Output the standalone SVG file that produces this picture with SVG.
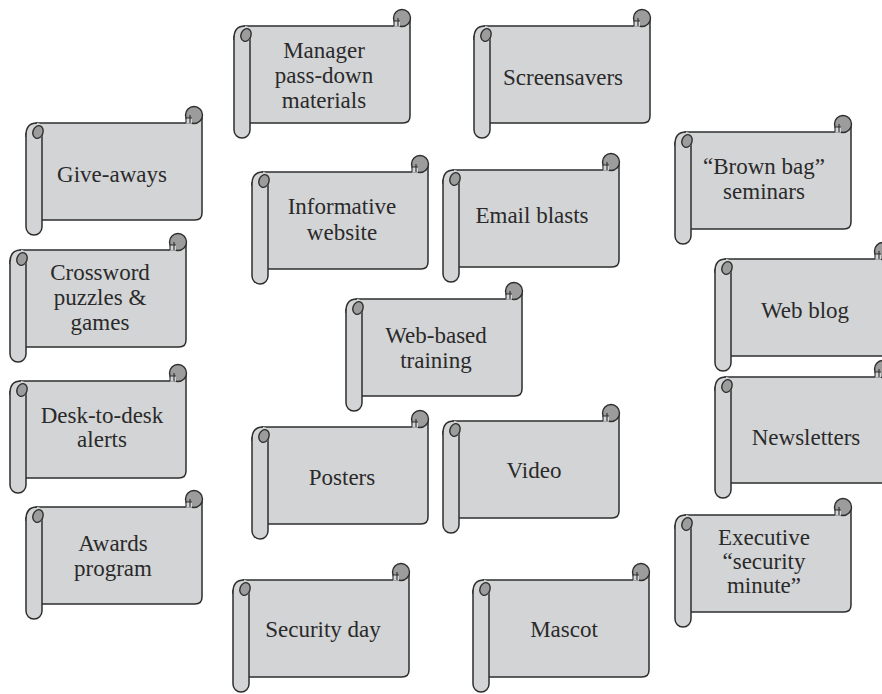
<svg xmlns="http://www.w3.org/2000/svg" xmlns:xlink="http://www.w3.org/1999/xlink" width="882" height="694" viewBox="0 0 882 694">
<style>
.t{font-family:"Liberation Serif","Times New Roman",serif;font-size:23px;fill:#2a2a2a;text-anchor:middle}
.b{fill:#d3d4d6;stroke:#2e2e2e;stroke-width:1.5;stroke-linejoin:round}
.d{fill:#9c9c9c;stroke:#2e2e2e;stroke-width:1.4}
.s{fill:none;stroke:#2e2e2e;stroke-width:1.5}
</style>
<defs>
<g id="cap">
<path d="M0,12 C0,4 4,0 11,0 C15,0 18,4 17,9 L16,14 H0 Z" fill="#d3d4d6"/>
<path class="s" d="M0,14 V12 C0,4 4,0 11,0"/>
<ellipse class="d" cx="12" cy="9" rx="5" ry="6.5" transform="rotate(20 12 9)"/>
<circle class="d" cx="168" cy="-8" r="8.5"/>
<path d="M160,0.6 V-5 H166 V0.6 Z" fill="#d3d4d6"/>
<path d="M160,0 V-5 H166 M164,-8 V0" fill="none" stroke="#2e2e2e" stroke-width="1.1"/>
</g>
<g id="scroll">
<path class="b" d="M10,0 H168 V-8 H176 V90 Q176,97 169,97 H10 Z"/>
<path class="b" d="M0,10 V104 A8,8 0 0 0 16,104 V10"/>
<use xlink:href="#cap"/>
</g>
<g id="scrollTall">
<path class="b" d="M10,0 H168 V-8 H176 V99 Q176,106 169,106 H10 Z"/>
<path class="b" d="M0,10 V113 A8,8 0 0 0 16,113 V10"/>
<use xlink:href="#cap"/>
</g>
</defs>
<g id="connectors"/>
<g id="n-manager"><use xlink:href="#scroll" x="234" y="26"/><text class="t"><tspan x="324" y="58">Manager</tspan><tspan x="324" y="83">pass-down</tspan><tspan x="324" y="108">materials</tspan></text></g>
<g id="n-screensavers"><use xlink:href="#scroll" x="474" y="26"/><text class="t" x="563" y="85">Screensavers</text></g>
<g id="n-giveaways"><use xlink:href="#scroll" x="26" y="123"/><text class="t" x="112" y="182">Give-aways</text></g>
<g id="n-brownbag"><use xlink:href="#scroll" x="675" y="132"/><text class="t"><tspan x="764" y="174">“Brown bag”</tspan><tspan x="764" y="199">seminars</tspan></text></g>
<g id="n-informative"><use xlink:href="#scroll" x="252" y="172"/><text class="t"><tspan x="342" y="214">Informative</tspan><tspan x="342" y="240">website</tspan></text></g>
<g id="n-email"><use xlink:href="#scroll" x="443" y="170"/><text class="t" x="532" y="223">Email blasts</text></g>
<g id="n-crossword"><use xlink:href="#scroll" x="10" y="250"/><text class="t"><tspan x="100" y="280">Crossword</tspan><tspan x="100" y="305">puzzles &amp;</tspan><tspan x="100" y="330">games</tspan></text></g>
<g id="n-webblog"><use xlink:href="#scroll" x="715" y="259"/><text class="t" x="805" y="318">Web blog</text></g>
<g id="n-webtraining"><use xlink:href="#scroll" x="346" y="299"/><text class="t"><tspan x="436" y="343">Web-based</tspan><tspan x="436" y="368">training</tspan></text></g>
<g id="n-desk"><use xlink:href="#scroll" x="10" y="381"/><text class="t"><tspan x="102" y="423">Desk-to-desk</tspan><tspan x="102" y="447">alerts</tspan></text></g>
<g id="n-newsletters"><use xlink:href="#scrollTall" x="715" y="377"/><text class="t" x="806" y="445">Newsletters</text></g>
<g id="n-posters"><use xlink:href="#scroll" x="252" y="427"/><text class="t" x="342" y="485">Posters</text></g>
<g id="n-video"><use xlink:href="#scroll" x="443" y="421"/><text class="t" x="534" y="478">Video</text></g>
<g id="n-awards"><use xlink:href="#scroll" x="26" y="507"/><text class="t"><tspan x="113" y="551">Awards</tspan><tspan x="113" y="576">program</tspan></text></g>
<g id="n-executive"><use xlink:href="#scroll" x="675" y="515"/><text class="t"><tspan x="764" y="545">Executive</tspan><tspan x="764" y="569">“security</tspan><tspan x="764" y="593">minute”</tspan></text></g>
<g id="n-securityday"><use xlink:href="#scroll" x="233" y="580"/><text class="t" x="323" y="637">Security day</text></g>
<g id="n-mascot"><use xlink:href="#scroll" x="473" y="580"/><text class="t" x="564" y="637">Mascot</text></g>
</svg>
